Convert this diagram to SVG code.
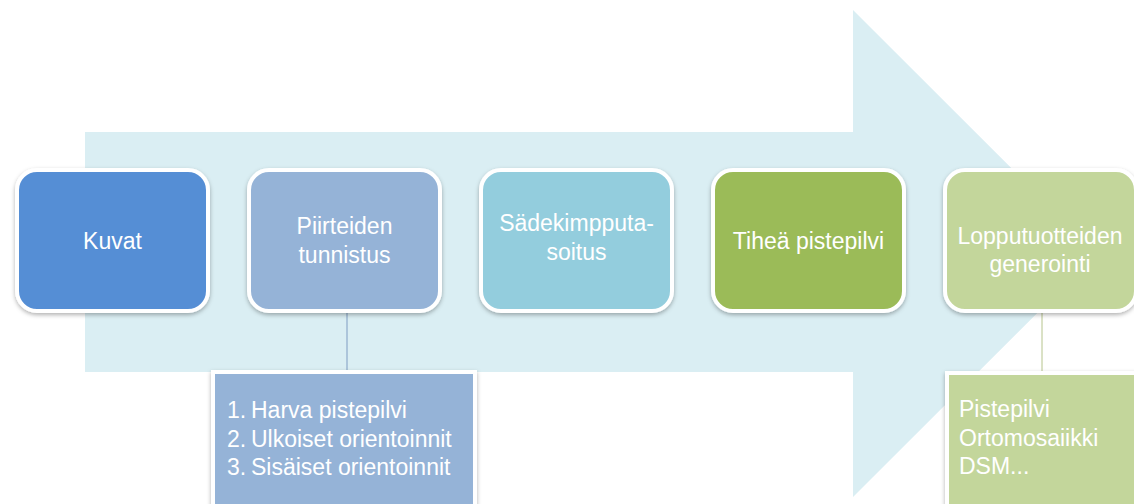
<svg xmlns="http://www.w3.org/2000/svg" width="1134" height="504" viewBox="0 0 1134 504">
<defs>
<filter id="sh" x="-10%" y="-10%" width="120%" height="130%">
<feDropShadow dx="0" dy="2" stdDeviation="2" flood-color="#000" flood-opacity="0.3"/>
</filter>
<style>
.node rect{stroke:#fff;stroke-width:4;filter:url(#sh)}
.t{font-family:"Liberation Sans",Arial,sans-serif;font-size:23px;fill:#fff;text-anchor:middle}
.b{font-family:"Liberation Sans",Arial,sans-serif;font-size:23px;fill:#fff}
.conn{fill:none;stroke-width:1}
</style>
</defs>
<rect width="1134" height="504" fill="#fff"/>
<polygon id="bigarrow" points="85,132 853,132 853,10 1097,253.5 853,497 853,372 85,372" fill="#DAEEF3"/>
<g id="connectors">
<line class="conn" x1="347" y1="312" x2="347" y2="373" stroke="#7F9CC2"/>
<line class="conn" x1="1042" y1="313" x2="1042" y2="374" stroke="#B6C48C"/>
</g>
<g id="n1" class="node">
<rect x="17" y="170" width="191" height="141" rx="20" fill="#558ED5"/>
<text class="t" x="112.5" y="249">Kuvat</text>
</g>
<g id="n2" class="node">
<rect x="249" y="170" width="191" height="141" rx="20" fill="#95B3D7"/>
<text class="t" x="344.5" y="234">Piirteiden</text>
<text class="t" x="344.5" y="263">tunnistus</text>
</g>
<g id="n3" class="node">
<rect x="481" y="170" width="191" height="141" rx="20" fill="#93CDDD"/>
<text class="t" x="576.5" y="231">Sädekimpputa-</text>
<text class="t" x="576.5" y="260">soitus</text>
</g>
<g id="n4" class="node">
<rect x="713" y="170" width="191" height="141" rx="20" fill="#9BBB59"/>
<text class="t" x="808.5" y="249">Tiheä pistepilvi</text>
</g>
<g id="n5" class="node">
<rect x="945" y="170" width="191" height="141" rx="20" fill="#C3D69B"/>
<text class="t" x="1040" y="244">Lopputuotteiden</text>
<text class="t" x="1040" y="272">generointi</text>
</g>
<g id="b1" class="node">
<rect x="213" y="372" width="262" height="140" rx="0" fill="#95B3D7"/>
<text class="b" y="418"><tspan x="227">1.</tspan><tspan x="251">Harva pistepilvi</tspan></text>
<text class="b" y="447"><tspan x="227">2.</tspan><tspan x="251">Ulkoiset orientoinnit</tspan></text>
<text class="b" y="475"><tspan x="227">3.</tspan><tspan x="251">Sisäiset orientoinnit</tspan></text>
</g>
<g id="b2" class="node">
<rect x="947" y="373" width="192" height="140" rx="0" fill="#C3D69B"/>
<text class="b" x="959" y="417">Pistepilvi</text>
<text class="b" x="959" y="446">Ortomosaiikki</text>
<text class="b" x="959" y="474">DSM...</text>
</g>
</svg>
